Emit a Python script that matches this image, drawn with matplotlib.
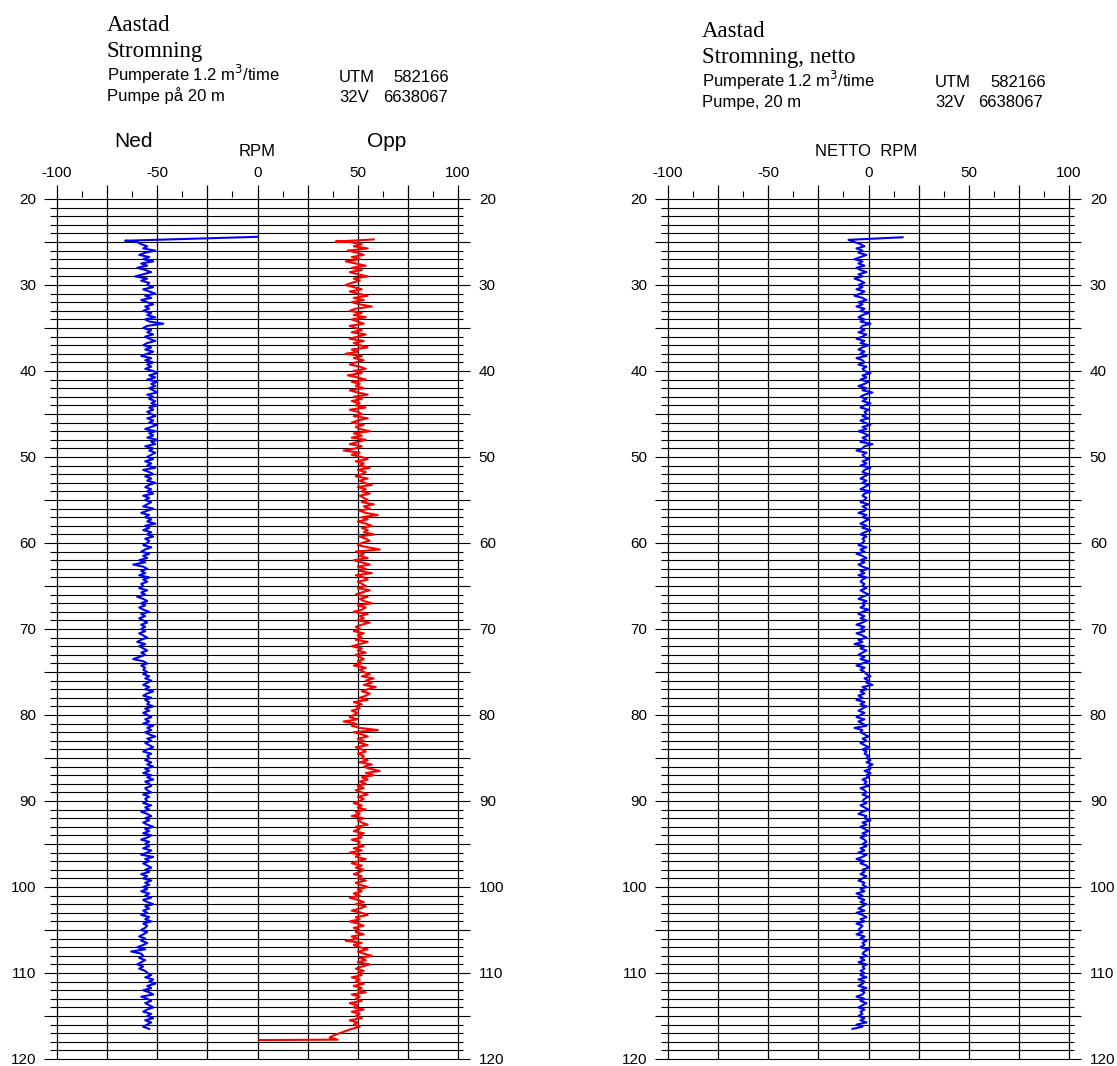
import numpy as np
import matplotlib
matplotlib.use("Agg")
import matplotlib.pyplot as plt

W, H = 1117, 1066

# ---- data (RPM vs depth in m), body sampled every 0.25 m from 25.0 m ----
body_start = 25.0
body_step = 0.25

ned_head_depth = [24.4, 24.85]
ned_head = [0, -66]
ned_body = [
    -60, -58, -55, -57, -51, -56, -59, -54, -57, -52, -58, -55, -60, -56, -53, -57, -61, -55, -58, -54,
    -55, -52, -57, -54, -51, -56, -53, -58, -55, -52, -56, -54, -57, -53, -55, -51, -56, -54, -47, -55,
    -57, -53, -55, -52, -56, -54, -51, -55, -57, -53, -56, -52, -55, -58, -53, -56, -52, -55, -53, -56,
    -52, -50, -54, -51, -55, -50, -53, -51, -54, -52, -50, -55, -52, -54, -51, -53, -50, -54, -52, -55,
    -53, -51, -55, -52, -54, -50, -53, -56, -51, -54, -52, -55, -50, -53, -51, -56, -52, -54, -51, -53,
    -55, -52, -56, -53, -55, -51, -57, -54, -52, -56, -53, -55, -51, -54, -56, -53, -55, -52, -57, -54,
    -56, -53, -55, -57, -52, -55, -58, -54, -56, -53, -55, -51, -56, -54, -57, -53, -55, -52, -56, -54,
    -55, -57, -53, -56, -58, -54, -57, -55, -59, -56, -62, -57, -55, -58, -56, -59, -54, -57, -55, -58,
    -57, -59, -55, -58, -56, -60, -57, -55, -58, -56, -59, -57, -54, -58, -56, -59, -57, -55, -58, -56,
    -58, -56, -59, -57, -55, -58, -60, -56, -59, -57, -55, -58, -56, -59, -62, -57, -55, -58, -56, -57,
    -55, -57, -54, -56, -53, -55, -57, -54, -56, -52, -55, -57, -53, -56, -54, -55, -52, -56, -54, -57,
    -55, -53, -56, -54, -57, -52, -55, -53, -56, -54, -51, -55, -53, -56, -54, -52, -55, -57, -53, -55,
    -54, -56, -53, -55, -52, -56, -54, -57, -53, -55, -52, -56, -54, -53, -56, -55, -53, -57, -54, -56,
    -55, -57, -53, -56, -54, -58, -55, -53, -56, -54, -57, -55, -52, -56, -54, -57, -53, -55, -58, -54,
    -56, -54, -57, -53, -55, -58, -52, -56, -54, -57, -55, -53, -56, -54, -58, -55, -57, -53, -56, -54,
    -57, -55, -58, -54, -56, -53, -57, -55, -52, -56, -54, -57, -55, -58, -54, -56, -53, -57, -55, -56,
    -58, -55, -57, -59, -56, -58, -55, -57, -60, -56, -63, -58, -57, -59, -56, -58, -60, -57, -59, -56,
    -55, -53, -56, -52, -54, -51, -55, -53, -57, -54, -52, -58, -55, -53, -56, -54, -52, -55, -57, -53,
    -55, -52, -56, -53, -55, -57, -54,
]

opp_head_depth = [24.7, 24.95]
opp_head = [58, 39]
opp_body = [
    46, 52, 48, 55, 45, 50, 53, 47, 51, 44, 49, 54, 47, 52, 46, 50, 55, 48, 51, 47,
    44, 48, 52, 46, 50, 55, 48, 53, 47, 51, 57, 49, 46, 52, 48, 54, 47, 50, 53, 46,
    49, 52, 47, 54, 50, 46, 53, 48, 51, 55, 47, 50, 44, 52, 48, 53, 49, 46, 51, 54,
    48, 52, 45, 50, 54, 47, 51, 49, 53, 46, 50, 55, 48, 52, 47, 51, 49, 54, 46, 50,
    52, 48, 55, 50, 47, 53, 49, 51, 56, 48, 52, 47, 54, 50, 46, 52, 49, 43, 51, 47,
    52, 55, 49, 53, 51, 56, 50, 54, 52, 49, 55, 51, 53, 57, 50, 54, 52, 56, 51, 53,
    55, 52, 58, 53, 56, 51, 54, 60, 52, 55, 50, 54, 57, 52, 55, 53, 58, 51, 54, 56,
    52, 50, 55, 61, 49, 53, 51, 55, 48, 52, 56, 50, 54, 51, 57, 49, 53, 55, 50, 52,
    54, 50, 56, 52, 49, 55, 51, 53, 57, 50, 54, 52, 48, 55, 51, 53, 50, 56, 52, 49,
    51, 48, 53, 50, 52, 49, 55, 51, 47, 52, 50, 54, 49, 51, 53, 50, 52, 48, 54, 51,
    53, 56, 52, 58, 54, 57, 53, 59, 55, 52, 56, 54, 51, 55, 48, 52, 49, 51, 47, 50,
    48, 46, 50, 43, 49, 47, 51, 60, 48, 52, 55, 50, 53, 51, 55, 49, 52, 54, 50, 53,
    52, 55, 51, 57, 53, 56, 61, 54, 58, 52, 55, 51, 54, 50, 53, 49, 52, 55, 50, 53,
    51, 48, 52, 50, 54, 49, 51, 47, 53, 50, 52, 55, 49, 51, 48, 53, 50, 52, 47, 51,
    50, 53, 48, 52, 46, 51, 49, 54, 50, 47, 52, 49, 53, 51, 48, 52, 50, 54, 49, 51,
    55, 50, 52, 48, 51, 46, 50, 53, 49, 54, 51, 47, 52, 55, 49, 51, 46, 50, 53, 48,
    51, 49, 53, 47, 50, 44, 52, 48, 51, 55, 50, 53, 57, 51, 54, 50, 56, 52, 49, 53,
    50, 52, 47, 51, 49, 53, 48, 52, 50, 54, 47, 51, 49, 52, 46, 50, 48, 53, 47, 51,
    49, 52, 46, 50, 48, 51, 47,
]
opp_tail_depth = [116.75, 117.0, 117.25, 117.5, 117.75, 117.8]
opp_tail = [44, 41, 38, 36, 40, 1]

netto_head_depth = [24.45, 24.75]
netto_head = [17, -10]
netto_body = [
    -7, -4, -2, -6, -3, -5, -1, -4, -7, -3, -5, -2, -6, -4, -1, -5, -3, -7, -4, -2,
    -5, -3, -6, -2, -4, -7, -3, -1, -5, -3, -6, -2, -4, 0, -3, -5, -2, -4, 1, -3,
    -4, -2, -5, -1, -3, -6, -2, -4, 0, -3, -5, -2, -4, -1, -6, -3, -2, -5, -1, -3,
    -2, 1, -3, -1, -4, 0, -2, -5, -1, -3, 2, -2, -4, -1, -3, 1, -2, -4, 0, -2,
    -1, -3, 0, -4, -2, 1, -3, -1, -5, -2, 0, -3, -1, -4, 2, -2, -3, -6, -1, -3,
    -2, 0, -3, -1, -4, 1, -2, -3, 0, -2, -4, -1, -3, 0, -2, -4, 1, -2, -3, -1,
    -2, -4, 0, -3, -1, -2, -5, -1, -3, 0, -2, -4, -1, -3, 1, -2, -4, -1, -3, -2,
    -3, -5, -1, -4, -2, -6, -3, -1, -4, -2, -5, -3, 0, -4, -2, -5, -1, -3, -4, -2,
    -3, -1, -4, -2, 0, -3, -5, -1, -3, -2, -4, 0, -3, -5, -2, -4, -1, -3, -6, -2,
    -4, -2, -6, -3, -1, -5, -3, -7, -2, -4, -1, -3, -5, -2, -4, 0, -3, -6, -2, -4,
    -2, -1, 1, -2, 0, -1, 2, -3, -1, -4, -2, -5, -3, -6, -2, -4, -1, -3, -5, -2,
    -4, -6, -2, -5, -3, -1, -7, -3, -4, -2, 0, -3, -1, -4, -2, 0, -3, -1, -2, 0,
    -1, 1, -1, 2, 0, 1, -2, 1, -1, 0, -3, -1, -2, 0, -4, -2, -1, -3, 0, -2,
    -3, -1, -4, -2, 0, -3, -5, -1, -2, 1, -3, -1, -4, -2, 0, -3, -1, -4, -2, -1,
    -3, -1, -4, -2, -5, -1, -3, -6, -2, -4, -1, 0, -3, -2, -4, -1, -3, -5, -2, -3,
    -1, -4, -2, -6, -3, -5, -2, -4, -1, -3, -5, -2, -6, -3, -1, -4, -2, -6, -3, -4,
    -5, -3, -6, -2, -4, -1, -3, -2, -4, 0, -2, -3, -1, -4, -2, -5, -1, -3, -2, -4,
    -2, -4, -1, -5, -2, -3, -5, -1, -4, -2, -3, -6, -2, -4, -1, -3, -5, -2, -4, -3,
    -5, -2, -4, -1, -6, -3, -8,
]

x_ticks = [-100, -50, 0, 50, 100]
depth_labels = list(range(20, 121, 10))


def body_depth(vals):
    return body_start + body_step * np.arange(len(vals))


def log_axes(fig, left_px):
    ax = fig.add_axes([left_px / W, 1 - 1059 / H, 401 / W, 860 / H])
    ax.set_xlim(-100, 100)
    ax.set_ylim(120, 20)
    for s in ax.spines.values():
        s.set_visible(False)
    # depth grid, every metre; longer lines every 5 m
    for d in range(20, 121):
        if d % 5 == 0:
            ax.hlines(d, -106.5, 106, color="black", lw=0.8, clip_on=False, zorder=1)
        else:
            ax.hlines(d, -103.5, 102.5, color="black", lw=0.8, clip_on=False, zorder=1)
    ax.vlines(np.arange(-100, 101, 25), 18.4, 120, color="black", lw=0.9,
              clip_on=False, zorder=1)
    ax.vlines(np.arange(-87.5, 100, 25), 19.1, 19.75, color="black", lw=0.8,
              clip_on=False, zorder=1)
    ax.xaxis.tick_top()
    ax.set_xticks(x_ticks)
    ax.set_xticklabels([str(v) for v in x_ticks], fontsize=11, family="Liberation Sans")
    ax.tick_params(axis="x", length=0, pad=14)
    ax.set_yticks(depth_labels)
    ax.set_yticklabels([str(v) for v in depth_labels], fontsize=11, family="Liberation Sans")
    ax.tick_params(axis="y", length=0, pad=15, labelright=True)
    return ax


def ftext(x, y, s, **kw):
    kw.setdefault("family", "Liberation Sans")
    kw.setdefault("fontsize", 12)
    fig.text(x / W, 1 - y / H, s, va="baseline", **kw)


fig = plt.figure(figsize=(W / 100, H / 100), dpi=100)

# left panel: Ned / Opp
ax1 = log_axes(fig, 57)
ax1.plot(ned_head + ned_body, ned_head_depth + list(body_depth(ned_body)),
         color="blue", lw=1.5, zorder=3)
ax1.plot(opp_head + opp_body + opp_tail,
         opp_head_depth + list(body_depth(opp_body)) + opp_tail_depth,
         color="red", lw=1.5, zorder=3)

# right panel: netto
ax2 = log_axes(fig, 668)
ax2.plot(netto_head + netto_body, netto_head_depth + list(body_depth(netto_body)),
         color="blue", lw=1.5, zorder=3)

# headers
ftext(107, 31, "Aastad", family="Liberation Serif", fontsize=16.5)
ftext(107, 57, "Stromning", family="Liberation Serif", fontsize=16.5)
ftext(107, 81, "Pumperate 1.2 m$^3$/time")
ftext(107, 101, "Pumpe på 20 m")
ftext(339, 82, "UTM")
ftext(393, 82, "582166")
ftext(339, 102, "32V")
ftext(383, 102, "6638067")
ftext(133, 147, "Ned", fontsize=15, ha="center")
ftext(387, 147, "Opp", fontsize=15, ha="center")
ftext(257, 156, "RPM", fontsize=12, ha="center")

ftext(702, 37, "Aastad", family="Liberation Serif", fontsize=16.5)
ftext(702, 63, "Stromning, netto", family="Liberation Serif", fontsize=16.5)
ftext(702, 87, "Pumperate 1.2 m$^3$/time")
ftext(702, 107, "Pumpe, 20 m")
ftext(935, 87, "UTM")
ftext(990, 87, "582166")
ftext(935, 107, "32V")
ftext(978, 107, "6638067")
ftext(866, 156, "NETTO  RPM", fontsize=12, ha="center")

fig.savefig("out.png", dpi=100)
